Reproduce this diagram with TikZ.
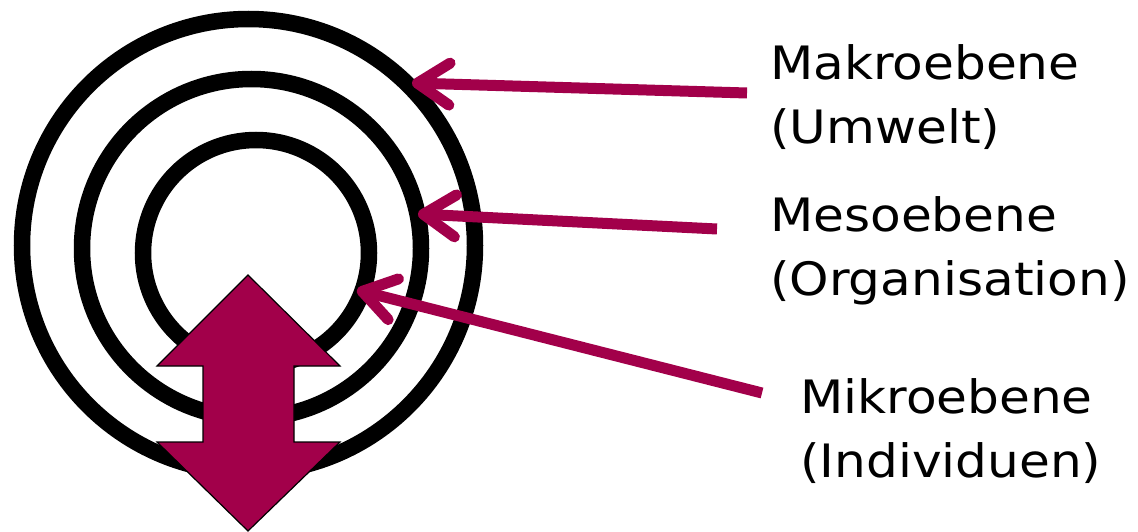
\documentclass[tikz,border=0pt]{standalone}
\usepackage{fontspec}
\setmainfont{DejaVu Sans}[FakeStretch=1.09]
\usetikzlibrary{arrows.meta}
\definecolor{wine}{RGB}{162,0,74}
\tikzset{
  ring/.style={draw=black, line width=16.5pt, circle, inner sep=0pt},
  pointer/.style={draw=wine, line width=11pt,
    -{Straight Barb[length=32pt,width=42pt,line width=0pt 1,line cap=round,line join=round]}},
  label/.style={anchor=base west, align=left, inner sep=0pt,
    font=\fontsize{46}{64}\selectfont},
  bigarrow/.style={fill=wine, draw=black, line width=1.2pt, line join=miter}
}
\begin{document}
\begin{tikzpicture}[x=1pt,y=-1pt]
\useasboundingbox (0,0) rectangle (1138,532);
% rings
\node[ring, minimum size=453pt] (outer) at (248.5,245.5) {};
\node[ring, minimum size=339pt] (middle) at (251.5,248.5) {};
\node[ring, minimum size=226pt] (inner) at (256,253) {};
% double arrow
\path[bigarrow] (248,275) -- (340,366) -- (294,366) -- (294,442) -- (340,442)
  -- (248,531) -- (157,442) -- (203,442) -- (203,366) -- (157,366) -- cycle;
% labels (anchor on the baseline of the last line)
\node[label] (makro) at (770,143) {Makroebene\\(Umwelt)};
\node[label] (meso) at (770,295) {Mesoebene\\(Organisation)};
\node[label] (mikro) at (800,477) {Mikroebene\\(Individuen)};
% connector ends
\coordinate (s1) at (747,93);
\coordinate (t1) at (412,83);
\coordinate (s2) at (717,229);
\coordinate (t2) at (418,214);
\coordinate (s3) at (762,393);
\coordinate (t3) at (357,290);
\draw[pointer] (s1) -- (t1);
\draw[pointer] (s2) -- (t2);
\draw[pointer] (s3) -- (t3);
\end{tikzpicture}
\end{document}
